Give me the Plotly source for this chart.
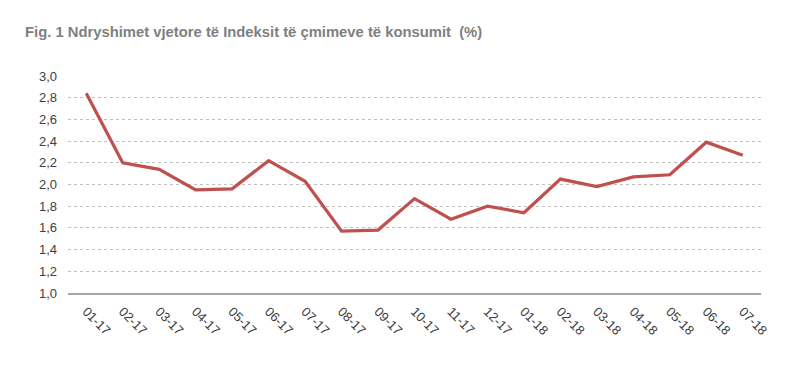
import plotly.graph_objects as go

categories = ["01-17", "02-17", "03-17", "04-17", "05-17", "06-17", "07-17", "08-17", "09-17",
              "10-17", "11-17", "12-17", "01-18", "02-18", "03-18", "04-18", "05-18", "06-18", "07-18"]
values = [2.84, 2.20, 2.14, 1.95, 1.96, 2.22, 2.03, 1.57, 1.58,
          1.87, 1.68, 1.80, 1.74, 2.05, 1.98, 2.07, 2.09, 2.39, 2.27]
y_ticks = [1.0, 1.2, 1.4, 1.6, 1.8, 2.0, 2.2, 2.4, 2.6, 2.8, 3.0]

title_text = "Fig. 1 Ndryshimet vjetore të Indeksit të çmimeve të konsumit  (%)"

# page body has an 8px default margin; compensate in figure coordinates
OFF = 8

fig = go.Figure()
fig.add_trace(go.Scatter(
    x=categories, y=values, mode="lines",
    line=dict(color="#C0504D", width=3.2),
    hoverinfo="skip", showlegend=False,
))

fig.update_layout(
    width=800, height=368,
    margin=dict(l=68 - OFF, r=39 + OFF, t=76 - OFF, b=75 + OFF),
    paper_bgcolor="white", plot_bgcolor="white",
    separators=", ",
    font=dict(family="Liberation Sans, Arial, sans-serif", color="#404040"),
    title=dict(
        text="<b>" + title_text + "</b>",
        x=(25 - OFF) / 800, xanchor="left", xref="container",
        y=1 - (32 - OFF) / 368, yanchor="middle", yref="container",
        font=dict(family="Liberation Sans Narrow, Arial Narrow, Liberation Sans, sans-serif",
                  size=14.8, color="#7F7F7F"),
    ),
    xaxis=dict(
        type="category",
        automargin=False,
        showgrid=False,
        showline=True, linecolor="#A6A6A6", linewidth=1.5,
        ticks="", tickangle=45,
        tickfont=dict(size=13, color="#404040"),
        ticklabelstandoff=4,
        range=[-0.5, len(categories) - 0.5],
    ),
    yaxis=dict(
        automargin=False,
        range=[1.0, 3.0],
        tickvals=y_ticks,
        tickformat=".1f",
        showgrid=True, gridcolor="#BFBFBF", griddash="dot", gridwidth=1,
        zeroline=False, showline=False,
        ticks="", ticklabelstandoff=10,
        tickfont=dict(size=13, color="#404040"),
    ),
)

fig.write_html("out.html")
